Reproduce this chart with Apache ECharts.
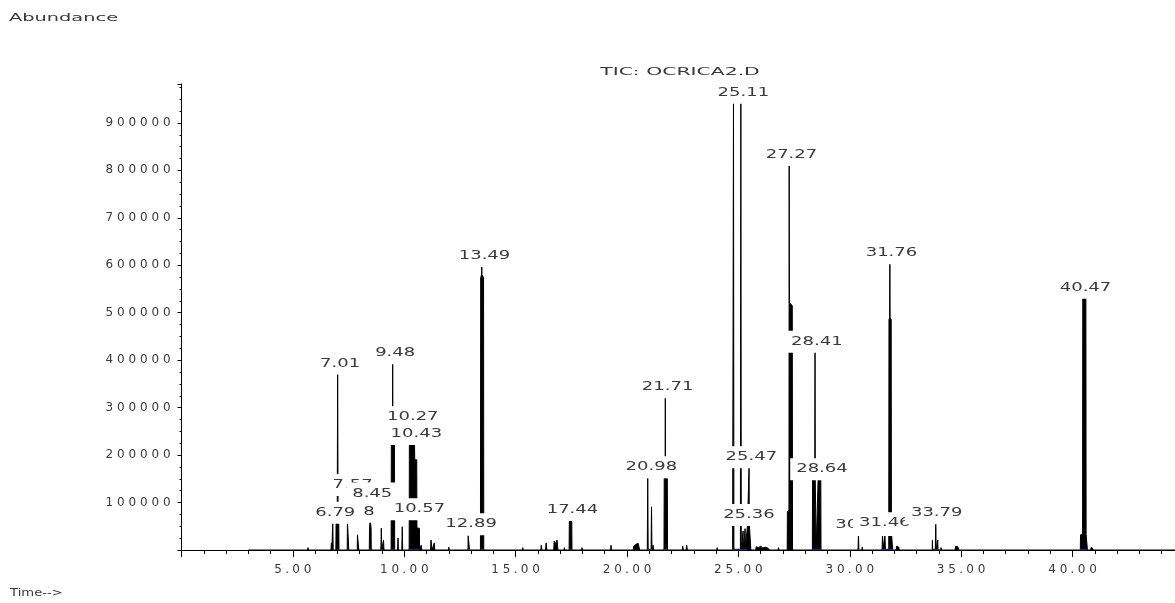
<!DOCTYPE html>
<html>
<head>
<meta charset="utf-8">
<script src="https://cdn.jsdelivr.net/npm/echarts/dist/echarts.min.js"></script>
<style>
html,body{margin:0;padding:0;background:#fff;}
#chart{width:1175px;height:603px;}
</style>
</head>
<body>
<div id="chart"></div>
<script>
// ---------------- DATA ----------------
// TIC trace: [retention time (min), abundance]
const ticTrace = [
  [3.00,0],[5.66,0],[5.68,5000],[5.70,0],
  [6.71,0],[6.73,15000],[6.75,0],
  [6.77,0],[6.79,62000],[6.81,0],
  [6.93,0],[6.94,60000],[6.99,70000],[7.01,378000],[7.03,70000],[7.06,60000],[7.07,0],
  [7.44,0],[7.45,60000],[7.47,63000],[7.50,60000],[7.51,0],
  [7.89,0],[7.90,32000],[7.92,34000],[7.95,32000],[7.96,0],
  [8.43,0],[8.44,46000],[8.46,60000],[8.47,103000],[8.48,60000],[8.51,46000],[8.52,0],
  [8.95,0],[8.97,46000],[8.99,0],
  [9.05,0],[9.07,21000],[9.09,0],
  [9.41,0],[9.42,226000],[9.47,240000],[9.48,400000],[9.49,240000],[9.56,226000],[9.57,0],
  [9.70,0],[9.72,25000],[9.74,0],
  [9.89,0],[9.91,49000],[9.93,0],
  [10.22,0],[10.23,228000],[10.35,232000],[10.46,228000],[10.47,190000],[10.56,190000],[10.57,46000],[10.68,46000],[10.69,0],
  [10.74,0],[10.76,10000],[10.78,0],
  [11.18,0],[11.20,21000],[11.23,18000],[11.25,0],
  [11.33,0],[11.35,15000],[11.37,0],
  [11.98,0],[12.00,6000],[12.02,0],
  [12.86,0],[12.87,30000],[12.89,34000],[12.92,30000],[12.93,0],
  [13.42,0],[13.43,574000],[13.47,580000],[13.48,601000],[13.49,580000],[13.56,574000],[13.57,0],
  [15.30,0],[15.32,5000],[15.34,0],
  [16.13,0],[16.15,10000],[16.18,0],
  [16.34,0],[16.37,15000],[16.40,0],
  [16.71,0],[16.73,19000],[16.78,12000],[16.86,21000],[16.90,0],
  [17.17,0],[17.19,5000],[17.21,0],
  [17.40,0],[17.41,61000],[17.47,63000],[17.52,60000],[17.53,0],
  [17.96,0],[17.98,5000],[18.00,0],
  [19.26,0],[19.28,10000],[19.30,0],
  [20.28,0],[20.30,8000],[20.40,12000],[20.50,14000],[20.55,10000],[20.57,0],
  [20.91,0],[20.93,154000],[20.95,0],
  [21.08,0],[21.10,91000],[21.12,0],
  [21.14,0],[21.17,10000],[21.20,0],
  [21.66,0],[21.67,150000],[21.71,155000],[21.72,327000],[21.73,155000],[21.81,150000],[21.82,0],
  [22.48,0],[22.50,8000],[22.53,0],
  [22.65,0],[22.68,10000],[22.71,0],
  [24.03,0],[24.05,5000],[24.07,0],
  [24.74,0],[24.78,950000],[24.80,0],
  [25.09,0],[25.11,952000],[25.13,0],
  [25.19,0],[25.21,40000],[25.23,0],
  [25.28,0],[25.30,45000],[25.32,5000],[25.40,5000],[25.41,53000],[25.47,55000],[25.48,180000],[25.49,55000],[25.55,53000],[25.56,0],
  [25.78,0],[25.80,7000],[25.90,5000],[26.00,8000],[26.10,4000],[26.20,6000],[26.30,5000],[26.40,0],
  [26.78,0],[26.80,5000],[26.82,0],
  [27.19,0],[27.20,80000],[27.27,85000],[27.28,817000],[27.29,521000],[27.42,515000],[27.43,0],
  [28.32,0],[28.33,151000],[28.43,155000],[28.44,424000],[28.45,155000],[28.48,151000],[28.49,0],
  [28.57,0],[28.58,151000],[28.64,154000],[28.70,150000],[28.71,0],
  [30.37,0],[30.39,33000],[30.41,0],
  [30.54,0],[30.56,6000],[30.58,0],
  [31.45,0],[31.47,32000],[31.49,0],
  [31.56,0],[31.58,33000],[31.60,0],
  [31.75,0],[31.76,485000],[31.79,490000],[31.80,608000],[31.81,490000],[31.86,485000],[31.87,36000],[31.92,34000],[31.93,0],
  [32.08,0],[32.10,8000],[32.15,5000],[32.20,6000],[32.22,0],
  [33.70,0],[33.71,21000],[33.72,0],
  [33.84,0],[33.86,60000],[33.88,0],
  [33.94,0],[33.95,21000],[33.96,0],
  [34.08,0],[34.10,5000],[34.12,0],
  [34.73,0],[34.75,8000],[34.85,7000],[34.90,0],
  [40.35,0],[40.36,32000],[40.45,33000],[40.46,534000],[40.53,538000],[40.60,534000],[40.61,33000],[40.66,32000],[40.67,0],
  [40.80,0],[40.85,6000],[40.92,3000],[40.95,0],
  [45.00,0]
];

// Peak labels: text as printed, retention time anchor, abundance level of the label
const peakLabels  = ['6.79','7.01','7.57','8.45','8','9.48','10.27','10.43','10.57','12.89','13.49','17.44','20.98','21.71','25.11','25.47','25.36','27.27','28.41','28.64','30.39','31.46','31.76','33.79','40.47'];
const labelTimes  = [6.79,7.01,7.57,8.45,8.30,9.48,10.27,10.43,10.57,12.89,13.49,17.44,20.98,21.71,25.11,25.47,25.36,27.27,28.41,28.64,30.39,31.46,31.76,33.79,40.47];
const labelLevels = [57500,372000,116000,98000,59600,393500,258600,223400,64700,33100,598500,63200,153200,321800,942700,174300,52700,811400,417900,149000,31600,35200,604200,56300,531700];

// Integration baseline windows (blue marks), minutes
const integrationStart = [6.77,6.98,7.44,8.42,8.95,9.40,10.20,12.85,13.42,17.40,20.90,21.64,24.72,27.18,28.30,30.36,31.44,33.70,40.34];
const integrationEnd   = [6.83,7.06,7.51,8.52,9.00,9.57,10.68,12.93,13.57,17.53,21.13,21.83,25.40,27.22,28.72,30.42,31.93,33.96,40.67];

// Tick labels
const xTickLabels = ['5.00','10.00','15.00','20.00','25.00','30.00','35.00','40.00'];
const yTickLabels = ['100000','200000','300000','400000','500000','600000','700000','800000','900000'];

const titleText = 'TIC: OCRICA2.D';
const yAxisTitle = 'Abundance';
const xAxisTitle = 'Time-->';

// ---------------- STYLE ----------------
const FONT = '"DejaVu Sans", "Liberation Sans", sans-serif';
const TEXT_COLOR = '#3a3a3a';

function spaced(s) {
  return s.split('').map(c => '{' + (c === '.' ? 'p' : 'd') + '|' + c + '}').join('');
}
const richChars = {
  d: { width: 11.5, align: 'center', fontSize: 12, fontFamily: FONT, color: TEXT_COLOR },
  p: { width: 6.5, align: 'center', fontSize: 12, fontFamily: FONT, color: TEXT_COLOR }
};

const chart = echarts.init(document.getElementById('chart'), null, { renderer: 'canvas' });

const option = {
  animation: false,
  backgroundColor: '#ffffff',
  grid: {
    left: 181.5, right: -8.9, top: 84, bottom: 53,
    containLabel: false, outerBoundsMode: 'none'
  },
  graphic: [
    { type: 'text', x: 9, y: 18, scaleX: 1.76,
      style: { text: yAxisTitle, font: '11px ' + FONT, fill: TEXT_COLOR, align: 'left', verticalAlign: 'middle' } },
    { type: 'text', x: 680, y: 72, scaleX: 1.85,
      style: { text: titleText, font: '11px ' + FONT, fill: TEXT_COLOR, align: 'center', verticalAlign: 'middle' } },
    { type: 'text', x: 10, y: 593, scaleX: 1.2,
      style: { text: xAxisTitle, font: '11px ' + FONT, fill: TEXT_COLOR, align: 'left', verticalAlign: 'middle' } }
  ],
  xAxis: {
    type: 'value', min: 0, max: 45, interval: 5,
    axisLine: { show: true, onZero: false, lineStyle: { color: '#000', width: 1 } },
    axisTick: { show: true, inside: false, length: 7, lineStyle: { color: '#000', width: 1 } },
    minorTick: { show: true, splitNumber: 5, length: 4, lineStyle: { color: '#000', width: 1 } },
    splitLine: { show: false },
    minorSplitLine: { show: false },
    axisLabel: {
      margin: 14,
      formatter: v => {
        const i = Math.round(v / 5) - 1;
        return (v > 0 && i >= 0 && i < xTickLabels.length && Math.abs(v - (i + 1) * 5) < 1e-6) ? spaced(xTickLabels[i]) : '';
      },
      rich: richChars
    }
  },
  yAxis: {
    type: 'value', min: 0, max: 982000, interval: 100000,
    axisLine: { show: true, onZero: false, lineStyle: { color: '#000', width: 1 } },
    axisTick: { show: true, inside: false, length: 4, lineStyle: { color: '#000', width: 1 } },
    minorTick: { show: true, splitNumber: 4, length: 2, lineStyle: { color: '#000', width: 1 } },
    splitLine: { show: false },
    axisLabel: {
      margin: 9,
      formatter: v => {
        const i = Math.round(v / 100000) - 1;
        return (i >= 0 && i < yTickLabels.length && Math.abs(v - (i + 1) * 100000) < 1e-6) ? spaced(yTickLabels[i]) : '';
      },
      rich: richChars
    }
  },
  series: [
    {
      name: 'TIC', type: 'line', data: ticTrace,
      symbol: 'none', showSymbol: false, sampling: null,
      lineStyle: { color: '#000', width: 1 },
      areaStyle: { color: '#000', opacity: 1 },
      z: 2, silent: true
    },
    {
      name: 'integration', type: 'custom', coordinateSystem: 'cartesian2d',
      data: integrationStart.map((s, i) => [s, integrationEnd[i], 0]),
      encode: { x: [0, 1], y: 2 },
      renderItem: (params, api) => {
        const a = api.coord([api.value(0), 0]);
        const b = api.coord([api.value(1), 0]);
        return { type: 'line', shape: { x1: a[0], y1: a[1] - 0.5, x2: b[0], y2: b[1] - 0.5 },
                 style: { stroke: '#1c1caa', lineWidth: 1.5 } };
      },
      z: 3, silent: true
    },
    {
      name: 'labels', type: 'custom', coordinateSystem: 'cartesian2d',
      data: labelTimes.map((t, i) => [t, labelLevels[i]]),
      clip: false,
      renderItem: (params, api) => {
        const p = api.coord([api.value(0), api.value(1)]);
        return {
          type: 'text', x: p[0] + 2.5, y: p[1] - 10, scaleX: 1.5, z2: params.dataIndex,
          style: {
            text: peakLabels[params.dataIndex], font: '12px ' + FONT, fill: TEXT_COLOR,
            align: 'center', verticalAlign: 'middle', backgroundColor: '#fff', padding: [5, 4]
          }
        };
      },
      z: 10, silent: true
    }
  ]
};
chart.setOption(option);
</script>
</body>
</html>
